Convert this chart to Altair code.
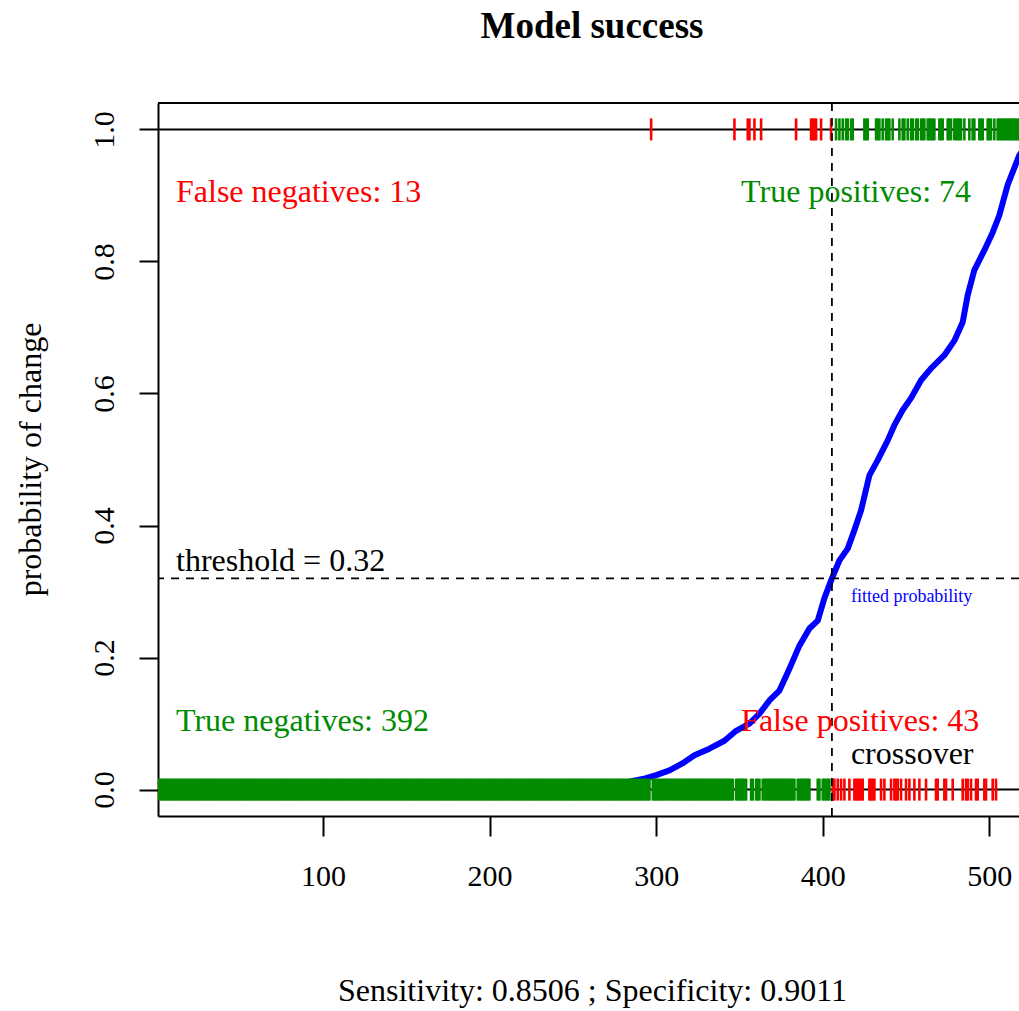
import altair as alt
import pandas as pd

# ---- model summary -------------------------------------------------------
N_OBS = 522            # observations, ordered by fitted probability
CROSSOVER = 405.5      # position where fitted probability crosses threshold
THRESHOLD = 0.32
TITLE = "Model success"

# observed changes (y = 1) that fall left of the crossover
fn_index = [297, 347, 355, 356, 359, 363, 384, 393, 394, 395, 396, 399, 405]

# observed non-changes (y = 0) that fall right of the crossover
fp_index = [406, 407, 409, 411, 413, 416, 419, 420, 421, 422, 423, 424,
            428, 429, 430, 431, 435, 437, 441, 443, 444, 445, 447, 450,
            452, 455, 458, 462, 468, 469, 473, 474, 478, 484, 486, 487,
            489, 492, 493, 497, 498, 502, 504]

# fitted probability curve (sorted)
curve_index = [1, 100, 200, 250, 280, 292, 300, 308, 316, 323, 332, 341,
               348, 356, 362, 368, 374, 380, 386, 392, 397, 401, 405.5, 410,
               415, 419, 423, 428, 433, 439, 443, 448, 453, 459, 465, 473,
               479, 484, 487, 491, 497, 502, 506, 511, 518, 522]
curve_prob = [0.0005, 0.001, 0.003, 0.006, 0.010, 0.016, 0.022, 0.029,
              0.040, 0.052, 0.062, 0.074, 0.089, 0.100, 0.115, 0.135, 0.150,
              0.183, 0.218, 0.244, 0.256, 0.290, 0.320, 0.347, 0.365, 0.393,
              0.423, 0.476, 0.499, 0.529, 0.552, 0.575, 0.593, 0.620, 0.638,
              0.658, 0.680, 0.708, 0.749, 0.787, 0.817, 0.844, 0.870, 0.916,
              0.961, 0.975]

x_ticks = [100, 200, 300, 400, 500]
y_ticks = [0.0, 0.2, 0.4, 0.6, 0.8, 1.0]

RED = "#FF0000"
GREEN = "#008B00"
BLUE = "#0000FF"
FONT = "Liberation Serif"

# ---- derived classification groups --------------------------------------
tn_index = [i for i in range(1, int(CROSSOVER) + 1) if i not in fn_index]
tp_index = [i for i in range(int(CROSSOVER) + 1, N_OBS + 1) if i not in fp_index]
sensitivity = len(tp_index) / (len(tp_index) + len(fn_index))
specificity = len(tn_index) / (len(tn_index) + len(fp_index))

rugs = pd.DataFrame(
    [{"x": i, "y": 1, "col": RED} for i in fn_index]
    + [{"x": i, "y": 1, "col": GREEN} for i in tp_index]
    + [{"x": i, "y": 0, "col": GREEN} for i in tn_index]
    + [{"x": i, "y": 0, "col": RED} for i in fp_index]
)
curve = pd.DataFrame({"x": curve_index, "y": curve_prob})

W, H = 861, 713
x_scale = alt.Scale(domain=[1, 517.8], nice=False, zero=False)
y_scale = alt.Scale(domain=[-0.04, 1.04], nice=False, zero=False)

x_axis = alt.Axis(
    values=x_ticks, format="d", grid=False, tickSize=20, tickWidth=2,
    tickColor="black", domainColor="black", domainWidth=2,
    labelFont=FONT, labelFontSize=30, labelColor="black",
    labelBaseline="alphabetic", labelPadding=49, labelFlush=False,
    labelOverlap=False,
    title=f"Sensitivity: {sensitivity:.4f} ; Specificity: {specificity:.4f}",
    titleFont=FONT, titleFontSize=32, titleFontWeight="normal",
    titleColor="black", titleBaseline="alphabetic", titleAlign="center",
    titleX=434, titleY=184,
)
y_axis = alt.Axis(
    values=y_ticks, format=".1f", grid=False, tickSize=19, tickWidth=2,
    tickColor="black", domainColor="black", domainWidth=2,
    labelFont=FONT, labelFontSize=30, labelColor="black", labelAngle=270,
    labelAlign="center", labelBaseline="alphabetic", labelPadding=26,
    labelOverlap=False, labelFlush=False,
    title="probability of change", titleFont=FONT, titleFontSize=32,
    titleFontWeight="normal", titleColor="black", titleAngle=270,
    titleAlign="center", titleBaseline="alphabetic", titleX=-118, titleY=356,
)

X = alt.X("x:Q", scale=x_scale, axis=x_axis)
Y = alt.Y("y:Q", scale=y_scale, axis=y_axis)

fitted = alt.Chart(curve).mark_line(
    color=BLUE, strokeWidth=6, clip=True, strokeJoin="round", strokeCap="round"
).encode(x=X, y=Y)

outcome_lines = alt.Chart(pd.DataFrame({"y": [0, 1]})).mark_rule(
    color="black", strokeWidth=2
).encode(y=alt.Y("y:Q", scale=y_scale))

rug = alt.Chart(rugs).mark_tick(
    orient="vertical", size=22, thickness=2.6, opacity=1, clip=True
).encode(
    x=alt.X("x:Q", scale=x_scale),
    y=alt.Y("y:Q", scale=y_scale),
    color=alt.Color("col:N", scale=None),
)

thresh_line = alt.Chart(pd.DataFrame({"y": [THRESHOLD]})).mark_rule(
    color="black", strokeWidth=1.8, strokeDash=[8, 7]
).encode(y=alt.Y("y:Q", scale=y_scale))

cross_line = alt.Chart(pd.DataFrame({"x": [CROSSOVER]})).mark_rule(
    color="black", strokeWidth=1.8, strokeDash=[8, 7]
).encode(x=alt.X("x:Q", scale=x_scale))

top_frame = alt.Chart(pd.DataFrame({"x": [0]})).mark_rule(
    color="black", strokeWidth=2
).encode(x=alt.value(0), x2=alt.value(W), y=alt.value(0))

# main title, centred over the full plotting region
title_text = alt.Chart(pd.DataFrame({"label": [TITLE]})).mark_text(
    font=FONT, fontSize=37, fontWeight="bold", color="black",
    align="center", baseline="alphabetic",
).encode(x=alt.value(434), y=alt.value(-65), text="label:N")

labels = pd.DataFrame([
    {"x": 11.8, "y": 0.9, "label": f"False negatives: {len(fn_index)}", "col": RED},
    {"x": 11.8, "y": 0.1, "label": f"True negatives: {len(tn_index)}", "col": GREEN},
    {"x": 351, "y": 0.9, "label": f"True positives: {len(tp_index)}", "col": GREEN},
    {"x": 351, "y": 0.1, "label": f"False positives: {len(fp_index)}", "col": RED},
    {"x": 416.9, "y": 0.05, "label": "crossover", "col": "black"},
])
count_text = alt.Chart(labels).mark_text(
    font=FONT, fontSize=32, align="left", baseline="middle", dy=-3
).encode(
    x=alt.X("x:Q", scale=x_scale),
    y=alt.Y("y:Q", scale=y_scale),
    text="label:N",
    color=alt.Color("col:N", scale=None),
)

thresh_text = alt.Chart(
    pd.DataFrame({"x": [11.8], "y": [THRESHOLD], "label": [f"threshold = {THRESHOLD}"]})
).mark_text(
    font=FONT, fontSize=32, align="left", baseline="middle", dy=-17, color="black"
).encode(x=alt.X("x:Q", scale=x_scale), y=alt.Y("y:Q", scale=y_scale), text="label:N")

fit_text = alt.Chart(
    pd.DataFrame({"x": [416.9], "y": [THRESHOLD], "label": ["fitted probability"]})
).mark_text(
    font=FONT, fontSize=18, align="left", baseline="middle", dy=19, color=BLUE
).encode(x=alt.X("x:Q", scale=x_scale), y=alt.Y("y:Q", scale=y_scale), text="label:N")

chart = alt.layer(
    fitted, outcome_lines, rug, thresh_line, cross_line, top_frame,
    count_text, thresh_text, fit_text, title_text,
).properties(
    width=W, height=H,
    padding={"left": 158, "top": 103, "right": 0, "bottom": 195},
    autosize=alt.AutoSizeParams(type="none"),
).configure_view(stroke=None).configure(background="white")

chart.save("out.html", embed_options={"renderer": "svg", "actions": False})
